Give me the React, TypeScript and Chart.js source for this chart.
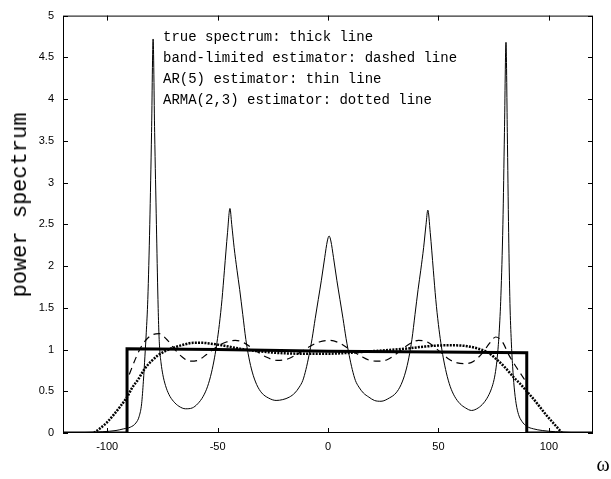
import React, { useEffect, useRef } from "react";
import { Chart, registerables } from "chart.js";

Chart.register(...registerables);

// axis ticks
const xTicks = [-100, -50, 0, 50, 100];
const yTicks = [0, 0.5, 1, 1.5, 2, 2.5, 3, 3.5, 4, 4.5, 5];

// true spectrum (thick line)
const trueX = [-120, -91, -91, -50, 0, 50, 90, 90, 120];
const trueY = [0, 0, 1.01, 1.0, 0.98, 0.97, 0.96, 0, 0];

// band-limited estimator (dashed line)
const bandX = [-90, -87, -84, -80, -76.5, -73, -69, -66, -62.5, -59, -55, -50, -46, -42, -38, -33, -28, -23, -18, -13, -8, -4, 0.5, 5, 10, 15, 19, 23, 27, 32, 36.5, 41, 45, 50, 55, 58.5, 62, 66, 70, 73, 76, 79, 82, 85, 88, 90];
const bandY = [0.7, 0.9, 1.06, 1.17, 1.19, 1.12, 0.99, 0.91, 0.86, 0.87, 0.94, 1.04, 1.09, 1.11, 1.08, 0.99, 0.91, 0.87, 0.89, 0.96, 1.04, 1.09, 1.11, 1.08, 1.0, 0.92, 0.87, 0.86, 0.88, 0.97, 1.06, 1.11, 1.09, 0.99, 0.88, 0.84, 0.83, 0.86, 0.96, 1.07, 1.15, 1.09, 0.93, 0.8, 0.68, 0.6];

// AR(5) estimator (thin line)
const arX = [
  -120, -110, -102, -96, -92.5, -89.5, -87, -85.5, -84.4, -83.6, -82.9, -82.3, -81.6, -80.7, -79.9, -79.2,
  -78.5, -77.7, -77, -76.6, -76.2, -75.6, -74.8, -73.6, -72, -70, -67.5, -64.5,
  -61.5, -59, -56.5, -54.5, -52.8, -51.4, -50.3, -49.2, -48, -46.9, -45.5, -44.4,
  -43.6, -42.5, -41.2, -40, -38.6, -37.2, -35.8, -34.3, -32.3, -30, -27, -23.5,
  -20.5, -17.5, -15, -13, -11.4, -10, -8.6, -7.2, -5.8, -4.4, -3, -1.5, -0.3, 0.5,
  1.3, 2.5, 4, 5.4, 6.8, 8.2, 9.6, 11, 12.4, 14, 16, 18.5, 21, 24,
  27.8, 30.8, 33.1, 35.1, 36.6, 38, 39.4, 40.8, 42, 43.3, 44.4, 45.2,
  46.3, 47.7, 48.8, 50, 51.1, 52.2, 53.6, 55.3, 57.3, 59.8, 62.3, 65,
  68, 70.5, 72.5, 74, 75.2, 76.1, 76.8, 77.5, 78.3, 79.2, 79.9, 80.6,
  81.2, 81.8, 82.4, 83, 83.6, 84.3, 85.2, 86.3, 87.8, 90, 93, 97, 103, 110, 120,
];
const arY = [
  0.002, 0.006, 0.015, 0.03, 0.05, 0.07, 0.12, 0.2, 0.35, 0.62, 0.92, 1.2, 1.6, 2.5, 3.6, 4.72,
  3.6, 2.5, 1.6, 1.22, 1.0, 0.84, 0.7, 0.57, 0.46, 0.38, 0.32, 0.29,
  0.3, 0.35, 0.44, 0.56, 0.72, 0.9, 1.08, 1.3, 1.6, 1.95, 2.4, 2.69,
  2.5, 2.22, 1.95, 1.72, 1.42, 1.12, 0.9, 0.73, 0.58, 0.48, 0.42, 0.39,
  0.4, 0.43, 0.48, 0.55, 0.63, 0.76, 0.93, 1.13, 1.37, 1.6, 1.83, 2.1, 2.3, 2.36,
  2.3, 2.1, 1.83, 1.6, 1.37, 1.13, 0.93, 0.76, 0.63, 0.55, 0.48, 0.43, 0.39, 0.38,
  0.42, 0.48, 0.58, 0.73, 0.9, 1.12, 1.42, 1.72, 1.95, 2.22, 2.5, 2.67,
  2.4, 1.95, 1.6, 1.3, 1.08, 0.9, 0.72, 0.56, 0.44, 0.35, 0.3, 0.27,
  0.3, 0.36, 0.44, 0.53, 0.64, 0.78, 0.95, 1.2, 1.65, 2.5, 3.6, 4.68,
  3.6, 2.4, 1.55, 1.1, 0.8, 0.55, 0.35, 0.22, 0.14, 0.08, 0.05, 0.03, 0.015, 0.006, 0,
];

// ARMA(2,3) estimator (dotted line)
const armaX = [-106, -103, -100, -97, -94, -91, -88.5, -86, -83, -80, -77, -73, -69, -65, -61, -57, -53, -48, -42, -35, -28, -20, -12, -5, 0, 6, 12, 20, 28, 35, 42, 48, 53, 58, 63, 68, 72, 76, 80, 84, 87, 90, 93, 96, 99, 102, 105, 106];
const armaY = [0, 0.06, 0.13, 0.22, 0.32, 0.43, 0.55, 0.64, 0.77, 0.86, 0.93, 0.99, 1.03, 1.06, 1.08, 1.08, 1.07, 1.05, 1.02, 0.99, 0.97, 0.955, 0.95, 0.95, 0.95, 0.955, 0.965, 0.98, 0.995, 1.01, 1.03, 1.045, 1.05, 1.05, 1.04, 1.01, 0.97, 0.89, 0.79, 0.67, 0.59, 0.5, 0.41, 0.31, 0.21, 0.12, 0.03, 0];

const legendLines = [
  "true spectrum: thick line",
  "band-limited estimator: dashed line",
  "AR(5) estimator: thin line",
  "ARMA(2,3) estimator: dotted line",
];
const yTitle = "power spectrum";
const xTitle = "ω";

const pts = (xs: number[], ys: number[]) => xs.map((x, i) => ({ x, y: ys[i] }));

const framePlugin = {
  id: "frame",
  afterDatasetsDraw(chart: any) {
    const { ctx, chartArea, scales } = chart;
    const { left, right, top, bottom } = chartArea;
    const xs = scales.x;
    const ys = scales.y;
    ctx.save();
    ctx.strokeStyle = "#000";
    ctx.lineWidth = 1;
    ctx.strokeRect(left + 0.5, top + 0.5, right - left - 1, bottom - top - 1);
    ctx.beginPath();
    const L = 5;
    xs.ticks.forEach((t: any) => {
      const p = Math.round(xs.getPixelForValue(t.value)) + 0.5;
      ctx.moveTo(p, bottom);
      ctx.lineTo(p, bottom - L);
      ctx.moveTo(p, top);
      ctx.lineTo(p, top + L);
    });
    ys.ticks.forEach((t: any) => {
      const p = Math.round(ys.getPixelForValue(t.value)) + 0.5;
      ctx.moveTo(left, p);
      ctx.lineTo(left + L, p);
      ctx.moveTo(right, p);
      ctx.lineTo(right - L, p);
    });
    ctx.stroke();
    ctx.restore();
  },
};

export default function App() {
  const ref = useRef<HTMLCanvasElement>(null);
  useEffect(() => {
    if (!ref.current) return;
    const tickFont = { family: "'Liberation Sans', Arial, sans-serif", size: 11 };
    const chart = new Chart(ref.current, {
      type: "line",
      data: {
        datasets: [
          {
            label: "true spectrum",
            data: pts(trueX, trueY),
            borderColor: "#000",
            borderWidth: 3,
            pointRadius: 0,
            tension: 0,
          },
          {
            label: "band-limited estimator",
            data: pts(bandX, bandY),
            borderColor: "#000",
            borderWidth: 1.2,
            borderDash: [7, 5],
            pointRadius: 0,
            cubicInterpolationMode: "monotone",
          },
          {
            label: "AR(5) estimator",
            data: pts(arX, arY),
            borderColor: "#000",
            borderWidth: 1,
            pointRadius: 0,
            cubicInterpolationMode: "monotone",
          },
          {
            label: "ARMA(2,3) estimator",
            data: pts(armaX, armaY),
            borderColor: "#000",
            borderWidth: 2.5,
            borderDash: [2, 1.2],
            pointRadius: 0,
            cubicInterpolationMode: "monotone",
          },
        ],
      },
      options: {
        responsive: false,
        animation: false,
        parsing: false as any,
        layout: { padding: { top: 13, right: 18, bottom: 0, left: 0 } },
        plugins: { legend: { display: false }, tooltip: { enabled: false } },
        scales: {
          x: {
            type: "linear",
            min: -120,
            max: 120,
            grid: { display: false, drawTicks: false },
            border: { display: false },
            ticks: { font: tickFont, color: "#000", padding: 7, includeBounds: false, maxRotation: 0 },
            afterBuildTicks: (s: any) => {
              s.ticks = xTicks.map((v) => ({ value: v }));
            },
            afterFit: (s: any) => {
              s.height = 46;
            },
          },
          y: {
            type: "linear",
            min: 0,
            max: 5,
            grid: { display: false, drawTicks: false },
            border: { display: false },
            ticks: { font: tickFont, color: "#000", padding: 9, callback: (v: any) => String(v) },
            afterBuildTicks: (s: any) => {
              s.ticks = yTicks.map((v) => ({ value: v }));
            },
            afterFit: (s: any) => {
              s.width = 63;
            },
          },
        },
      } as any,
      plugins: [framePlugin],
    });
    return () => chart.destroy();
  }, []);

  return (
    <div style={{ position: "absolute", left: 0, top: 0, width: 611, height: 479, background: "#fff" }}>
      <canvas ref={ref} width={611} height={479} style={{ width: 611, height: 479, display: "block" }} />
      {legendLines.map((t, i) => (
        <div
          key={i}
          style={{
            position: "absolute",
            left: 163,
            top: 30 + i * 21,
            fontFamily: "'Liberation Mono', 'Courier New', monospace",
            fontSize: 14,
            lineHeight: "14px",
            whiteSpace: "pre",
            color: "#000",
          }}
        >
          {t}
        </div>
      ))}
      <div
        style={{
          position: "absolute",
          left: 21,
          top: 205,
          transform: "translate(-50%, -50%) rotate(-90deg)",
          fontFamily: "'Liberation Mono', 'Courier New', monospace",
          fontSize: 22,
          lineHeight: "22px",
          whiteSpace: "pre",
          color: "#000",
        }}
      >
        {yTitle}
      </div>
      <div
        style={{
          position: "absolute",
          left: 603,
          top: 464,
          transform: "translate(-50%, -50%)",
          fontFamily: "'Liberation Serif', 'Times New Roman', serif",
          fontSize: 20,
          lineHeight: "20px",
          color: "#000",
        }}
      >
        {xTitle}
      </div>
    </div>
  );
}
